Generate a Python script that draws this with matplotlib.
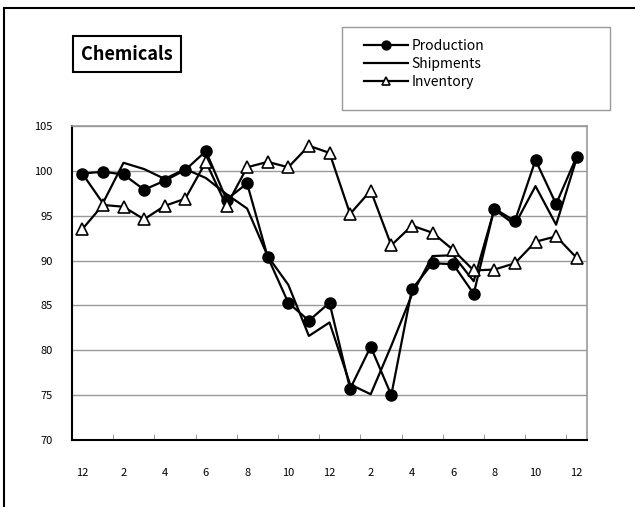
import matplotlib
matplotlib.use('Agg')
import matplotlib.pyplot as plt
import numpy as np
from matplotlib.patches import Rectangle

plt.rcParams['font.family'] = ['Noto Sans CJK JP', 'DejaVu Sans']

# month labels (every other month shown)
months = [12, 1, 2, 3, 4, 5, 6, 7, 8, 9, 10, 11, 12,
          1, 2, 3, 4, 5, 6, 7, 8, 9, 10, 11, 12]

production = [99.7, 99.9, 99.6, 97.9, 98.9, 100.1, 102.2, 96.8, 98.6, 90.4,
              85.3, 83.3, 85.3, 75.7, 80.4, 75.0, 86.8, 89.7, 89.6, 86.3,
              95.8, 94.4, 101.2, 96.3, 101.6]
shipments = [99.7, 96.4, 100.9, 100.2, 99.1, 100.2, 99.2, 97.4, 95.8, 90.5,
             87.3, 81.6, 83.1, 76.2, 75.1, 80.5, 86.2, 90.5, 90.6, 87.7,
             95.7, 94.0, 98.3, 94.0, 101.4]
inventory = [93.5, 96.2, 96.0, 94.6, 96.1, 96.9, 101.0, 96.1, 100.4, 101.0,
             100.4, 102.8, 102.0, 95.2, 97.8, 91.7, 93.9, 93.1, 91.2, 88.9,
             89.0, 89.7, 92.1, 92.7, 90.3]

fig = plt.figure(figsize=(6.35, 5.07), dpi=100)
ax = fig.add_axes([72/635, 1-440/507, 515/635, 314/507])

x = np.arange(len(months))
ax.plot(x, production, color='black', lw=1.6, marker='o', ms=8,
        label='Production', zorder=3)
ax.plot(x, shipments, color='black', lw=1.6, label='Shipments', zorder=2)
ax.plot(x, inventory, color='black', lw=1.6, marker='^', ms=8,
        mfc='white', mec='black', mew=1.2, label='Inventory', zorder=4)

ax.set_xlim(-0.5, len(months)-0.5)
ax.set_ylim(70, 105)
ax.set_yticks(np.arange(70, 106, 5))
ax.yaxis.grid(True, color='#999999', lw=1)
ax.set_axisbelow(True)
ax.tick_params(axis='y', length=0, labelsize=8, pad=14)

ax.set_xticks(x[::2])
ax.set_xticklabels([str(m) for m in months[::2]])
ax.tick_params(axis='x', length=0, labelsize=8, pad=20)
ax.set_xticks(np.arange(1.5, len(months)-1, 2), minor=True)
ax.tick_params(axis='x', which='minor', direction='in', length=4,
               color='#888888')

ax.spines['left'].set_color('black')
ax.spines['bottom'].set_color('black')
ax.spines['left'].set_linewidth(1.5)
ax.spines['bottom'].set_linewidth(1.5)
ax.spines['top'].set_color('#999999')
ax.spines['right'].set_color('#999999')
ax.spines['top'].set_linewidth(1.2)
ax.spines['right'].set_linewidth(1.2)

# title box
fig.text(127/635, 1-54/507, 'Chemicals', fontsize=13, fontweight='bold',
         ha='center', va='center',
         bbox=dict(boxstyle='square,pad=0.45', fc='white', ec='black', lw=1.5))

# legend box
fig.patches.append(Rectangle((342/635, 1-110/507), 268/635, 83/507,
                             transform=fig.transFigure, fill=False,
                             ec='#999999', lw=1))
leg = fig.legend(loc='upper left', bbox_to_anchor=(364/635, 1-39/507),
                 frameon=False, fontsize=10, handlelength=3.2,
                 markerscale=0.8, borderpad=0, labelspacing=0.3,
                 handletextpad=0.2, borderaxespad=0)

# outer frame
fig.patches.append(Rectangle((4/635, -0.05), 1.1, 1 - 8/507 + 0.05,
                             transform=fig.transFigure, fill=False,
                             ec='black', lw=1.5))

fig.savefig('out.png', dpi=100)
